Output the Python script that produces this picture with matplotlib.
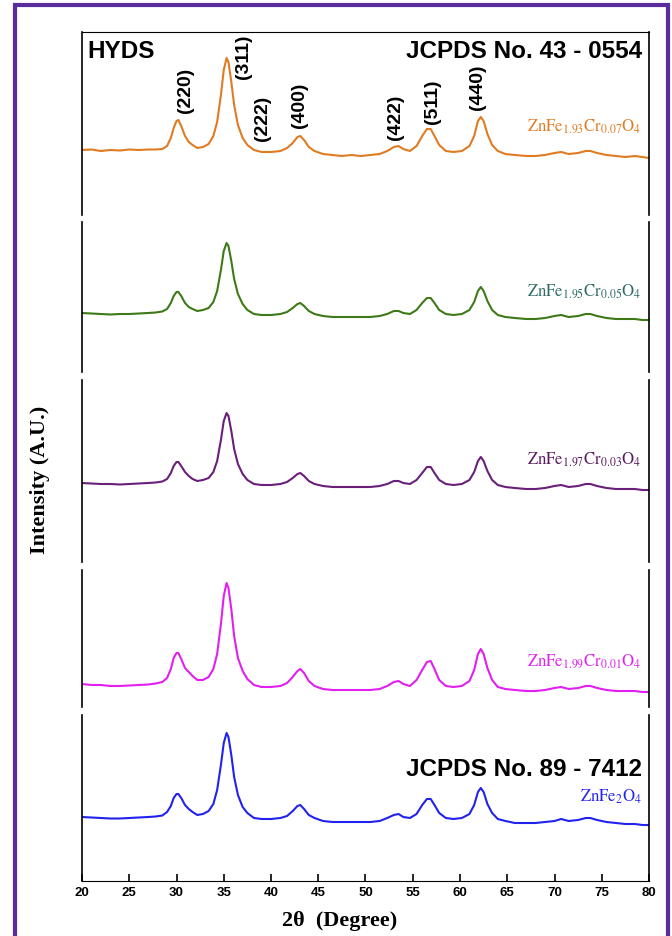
import numpy as np
import matplotlib
matplotlib.use("Agg")
from matplotlib import pyplot as plt
from matplotlib.patches import Rectangle

plt.rcParams['mathtext.fontset'] = 'stix'

# 2theta grid (degrees) shared by all patterns
two_theta = [20, 21, 22, 23, 24, 25, 26, 27, 27.8, 28.5,
             29.0, 29.4, 29.7, 30.0, 30.2, 30.5, 30.9, 31.3, 31.7, 32.2,
             32.8, 33.4, 33.9, 34.3, 34.7, 35.0, 35.3, 35.5, 35.8, 36.1,
             36.5, 37.0, 37.5, 38.2, 39, 40, 41, 41.7, 42.3, 42.8,
             43.1, 43.5, 44.0, 44.6, 45.5, 46.5, 47.5, 48.5, 49.5, 50.5,
             51.5, 52.3, 53.0, 53.5, 54.0, 54.7, 55.4, 56.0, 56.5, 56.9,
             57.3, 57.8, 58.5, 59.3, 60.2, 61.0, 61.5, 61.9, 62.2, 62.5,
             62.9, 63.4, 64.0, 64.8, 65.8, 67, 68, 69, 70, 70.7,
             71.5, 72.5, 73.3, 73.8, 74.5, 75.5, 76.5, 77.5, 78.5, 79.3,
             80]

# intensities (A.U.), top panel first
cr007 = [0, 0.5, -1, 0, -0.5, 0.5, 0, 0.5, 0.5, 1,
         4, 12, 22, 29, 30, 24, 14, 8, 5, 2,
         3, 6, 14, 28, 55, 80, 92, 88, 68, 45,
         25, 12, 5, 0, -2, -2, -1, 2, 7, 13,
         14, 10, 3, -1, -4, -5, -6, -5, -6, -5,
         -4, -1, 3, 4, 1, -1, 4, 14, 21, 21,
         14, 5, -1, -2, -1, 4, 14, 29, 33, 29,
         16, 5, -1, -4, -5, -6, -6, -5, -3, -2,
         -4, -3, -1, -1, -3, -5, -6, -7, -6, -7,
         -8]
cr005 = [0, -0.5, -1, -1.5, -1, -1, -0.5, 0, 0.5, 1.5,
         4, 10, 17, 21, 21, 17, 10, 6, 4, 2,
         3, 5, 11, 22, 43, 62, 70, 67, 52, 34,
         19, 9, 3, -1, -2, -2, -1, 1, 5, 9,
         10, 7, 2, -1, -3, -4, -4, -4, -4, -4,
         -3, -1, 2, 2, 0, -1, 3, 10, 15, 15,
         10, 3, -1, -2, -1, 3, 11, 22, 26, 22,
         12, 3, -2, -4, -5, -6, -6, -5, -3, -2,
         -4, -3, -1, -1, -3, -5, -6, -6, -6, -7,
         -7]
cr003 = [0, -0.5, -1, -1, -1.5, -1, -0.5, 0, 0.5, 1.5,
         4, 10, 17, 21, 21, 17, 11, 7, 4, 2,
         3, 5, 11, 22, 43, 62, 70, 67, 52, 34,
         19, 9, 3, -1, -2, -2, -1, 1, 5, 9,
         10, 7, 2, -1, -3, -4, -4, -4, -4, -4,
         -3, -1, 2, 2, 0, -1, 3, 10, 16, 16,
         10, 3, -1, -2, -1, 3, 11, 22, 26, 22,
         12, 3, -2, -4, -5, -6, -6, -5, -3, -2,
         -4, -3, -1, -1, -3, -5, -6, -6, -6, -7,
         -7]
cr001 = [0, -1, -1, -2, -2, -1.5, -1, -0.5, 0.5, 2,
         6, 15, 26, 31, 31, 25, 16, 12, 8, 4,
         4, 7, 15, 30, 60, 88, 101, 96, 75, 48,
         26, 13, 5, -1, -3, -3, -2, 1, 7, 13,
         15, 11, 3, -2, -5, -6, -6, -6, -6, -6,
         -5, -2, 2, 3, 0, -2, 4, 14, 22, 23,
         15, 4, -2, -3, -2, 3, 14, 30, 35, 30,
         16, 4, -3, -5, -6, -7, -7, -6, -4, -3,
         -5, -4, -2, -2, -4, -6, -7, -7, -7, -8,
         -8]
zfo = [0, -0.5, -1, -1.5, -1.5, -1, -0.5, 0, 0.5, 1.5,
       5, 11, 19, 23, 23, 19, 12, 8, 5, 2,
       3, 6, 13, 27, 52, 74, 84, 80, 62, 40,
       22, 10, 4, -1, -2, -2, -1, 1, 6, 11,
       12, 8, 2, -1, -4, -5, -5, -5, -5, -5,
       -4, -1, 2, 3, 0, -1, 3, 12, 18, 18,
       12, 4, -1, -2, -1, 3, 12, 25, 29, 25,
       13, 4, -2, -4, -6, -6, -6, -5, -4, -2,
       -4, -3, -1, -1, -3, -5, -6, -7, -7, -8,
       -8]

patterns = [cr007, cr005, cr003, cr001, zfo]
names = [r'ZnFe$_{1.93}$Cr$_{0.07}$O$_4$', r'ZnFe$_{1.95}$Cr$_{0.05}$O$_4$',
         r'ZnFe$_{1.97}$Cr$_{0.03}$O$_4$', r'ZnFe$_{1.99}$Cr$_{0.01}$O$_4$',
         r'ZnFe$_2$O$_4$']
line_colors = ['#e07b22', '#3d7a17', '#6a1f7a', '#e11ff0', '#2222ee']
text_colors = ['#e07b22', '#2e6b68', '#5a1860', '#e11ff0', '#2222ee']

hkl = ['(220)', '(311)', '(222)', '(400)', '(422)', '(511)', '(440)']
hkl_pos = [30.9, 37.1, 39.1, 43.0, 53.2, 57.1, 61.9]
hkl_y = [90, 57, 118, 105, 117, 102, 87]   # label centres, pixel rows

W, H = 672, 936
fig = plt.figure(figsize=(W / 100, H / 100), dpi=100)

# purple frame round the whole figure (open at the bottom edge)
fig.patches.append(Rectangle((15 / W, -0.02), 653 / W, 1.02 - 5 / H, transform=fig.transFigure,
                             fill=False, edgecolor='#5b2b9e', linewidth=3))

x0, x1 = 82, 649
panels = [(32, 215), (222, 372), (380, 562), (570, 707), (715, 881)]
baselines = [150, 313, 483, 684, 817]
label_rows = [127, 292, 460, 662, 797]

axes = []
for i, (top, bot) in enumerate(panels):
    ax = fig.add_axes([x0 / W, 1 - bot / H, (x1 - x0) / W, (bot - top) / H])
    b = baselines[i]
    ax.plot(two_theta, patterns[i], color=line_colors[i], lw=1.5)
    ax.set_xlim(20, 80)
    ax.set_ylim(-(bot - b), b - top)
    ax.set_yticks([])
    for side in ['left', 'right']:
        ax.spines[side].set_linewidth(1.2)
    ax.spines['top'].set_visible(i == 0)
    ax.spines['bottom'].set_visible(i == len(panels) - 1)
    if i < len(panels) - 1:
        ax.set_xticks([])
    ax.text(79.2, b - label_rows[i], names[i], color=text_colors[i], ha='right',
            va='center', fontsize=12, family='STIXGeneral')
    ax.patch.set_alpha(0)
    axes.append(ax)

ax = axes[-1]
ax.set_xticks(range(20, 81, 5))
ax.tick_params(axis='x', direction='in', length=5, width=1.2, pad=4)
for t in ax.get_xticklabels():
    t.set_fontfamily('Liberation Sans')
    t.set_fontweight('bold')
    t.set_fontsize(9.5)

ax_top = axes[0]
ax_top.text(0.01, (215 - 52) / (215 - 32), 'HYDS', transform=ax_top.transAxes,
            fontsize=17.5, fontweight='bold', family='Liberation Sans', va='center')
ax_top.text(0.988, (215 - 52) / (215 - 32), 'JCPDS No. 43 - 0554', transform=ax_top.transAxes,
            fontsize=17.5, fontweight='bold', family='Liberation Sans', va='center', ha='right')
for lab, xp, yp in zip(hkl, hkl_pos, hkl_y):
    ax_top.text(xp, baselines[0] - yp, lab, rotation=90, ha='center', va='center',
                fontsize=14, fontweight='bold', family='Liberation Sans')

axes[-1].text(0.988, (881 - 770) / (881 - 715), 'JCPDS No. 89 - 7412',
              transform=axes[-1].transAxes, fontsize=17.5, fontweight='bold',
              family='Liberation Sans', va='center', ha='right')

fig.text(340 / W, 1 - 921 / H, '2θ  (Degree)', ha='center', va='center',
         fontsize=16, fontweight='bold', family='Liberation Serif')
fig.text(40 / W, 1 - 480 / H, 'Intensity (A.U.)', rotation=90, ha='center', va='center',
         fontsize=16, fontweight='bold', family='Liberation Serif')

fig.savefig('out.png', dpi=100)
